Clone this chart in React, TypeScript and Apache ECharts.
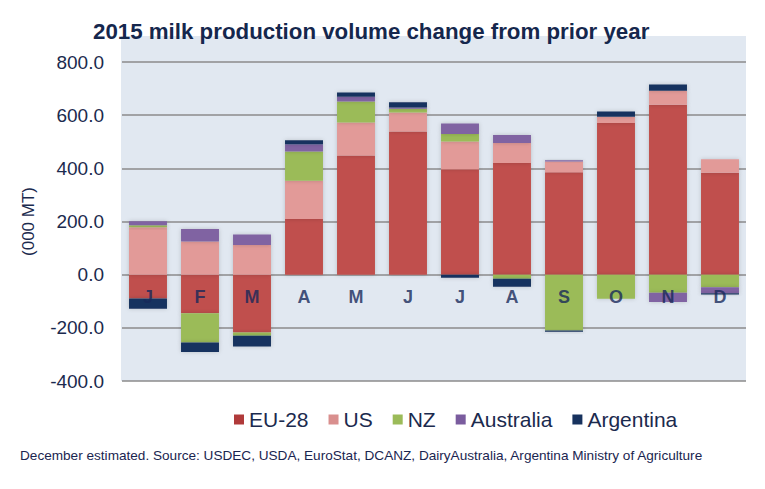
import React, { useEffect, useRef } from "react";
import * as echarts from "echarts";

const months = ["J", "F", "M", "A", "M", "J", "J", "A", "S", "O", "N", "D"];
const eu28 = [-90, -145, -218, 209, 448, 539, 397, 420, 385, 571, 639, 383];
const us = [178, 125, 112, 144, 124, 71, 104, 75, 41, 23, 53, 51];
const nz = [8, -110, -12, 110, 79, 14, 28, -15, -210, -91, -68, -47];
const australia = [15, 47, 39, 28, 18, 5, 40, 30, 4, 0, -35, -23];
const argentina = [-38, -36, -40, 15, 16, 20, -12, -30, -5, 20, 23, -5];
const yTicks = [-400, -200, 0, 200, 400, 600, 800];

const seriesDefs = [
  { name: "EU-28", data: eu28, color: "#c0504d", legendColor: "#b03a3a" },
  { name: "US", data: us, color: "#e29a98", legendColor: "#d98f8e" },
  { name: "NZ", data: nz, color: "#9bbb59", legendColor: "#9bbb59" },
  { name: "Australia", data: australia, color: "#8064a2", legendColor: "#7a5c9e" },
  { name: "Argentina", data: argentina, color: "#17325e", legendColor: "#17325e" },
];

const navy = "#1b2a4e";
const font = "'Liberation Sans', Arial, sans-serif";

export default function App() {
  const ref = useRef<HTMLDivElement>(null);
  useEffect(() => {
    if (!ref.current) return;
    const chart = echarts.init(ref.current, null, { renderer: "svg" });
    chart.setOption({
      animation: false,
      backgroundColor: "#ffffff",
      textStyle: { fontFamily: font },
      grid: {
        left: 122,
        right: 19,
        top: 62,
        bottom: 108,
        show: false,
      },
      title: {
        text: "2015 milk production volume change from prior year",
        left: 88,
        top: 15,
        textStyle: { fontFamily: font, fontSize: 22.3, fontWeight: "bold", color: "#15274d" },
      },
      legend: {
        left: 229,
        top: 404,
        icon: "rect",
        itemWidth: 10,
        itemHeight: 10,
        itemGap: 20,
        textStyle: { fontFamily: font, fontSize: 21, color: navy },
        data: seriesDefs.map((s) => ({ name: s.name, itemStyle: { color: s.legendColor } })),
      },
      xAxis: {
        type: "category",
        data: months,
        axisLine: { show: false },
        axisTick: { show: false },
        axisLabel: { show: false },
        splitLine: { show: false },
      },
      yAxis: {
        type: "value",
        min: yTicks[0],
        max: yTicks[yTicks.length - 1],
        interval: 200,
        name: "(000 MT)",
        nameLocation: "middle",
        nameGap: 85,
        nameTextStyle: { fontSize: 17, color: navy, fontFamily: font },
        axisLine: { show: false },
        axisTick: { show: false },
        axisLabel: {
          fontSize: 19,
          color: navy,
          margin: 18,
          fontFamily: font,
          formatter: (v: number) => v.toFixed(1),
        },
        splitLine: { show: true, lineStyle: { color: "#8b8b8b", width: 1.6 } },
      },
      series: [
        ...seriesDefs.map((s) => ({
          name: s.name,
          type: "bar",
          stack: "total",
          data: s.data,
          barCategoryGap: "27%",
          itemStyle: {
            color: s.color,
            shadowBlur: 4,
            shadowColor: "rgba(0,0,0,0.18)",
          },
        })),
        {
          name: "monthLabels",
          type: "scatter",
          z: 20,
          symbolSize: 0,
          silent: true,
          data: months.map(() => 0),
          label: {
            show: true,
            position: "bottom",
            distance: 13,
            formatter: (p: any) => months[p.dataIndex],
            fontSize: 18,
            fontWeight: "bold",
            color: "#17285a",
            fontFamily: font,
          },
        },
      ],
      graphic: [
        {
          type: "rect",
          z: -100,
          shape: { x: 121, y: 36, width: 625, height: 345 },
          style: { fill: "#e1e8f1" },
          silent: true,
        },
        {
          type: "text",
          left: 20,
          top: 448,
          style: {
            text: "December estimated. Source: USDEC, USDA, EuroStat, DCANZ, DairyAustralia, Argentina Ministry of Agriculture",
            fontFamily: font,
            fontSize: 13.6,
            fill: "#1a2550",
          },
        },
      ],
    });
    return () => chart.dispose();
  }, []);
  return (
    <div
      ref={ref}
      style={{ position: "fixed", left: 0, top: 0, width: 765, height: 489 }}
    />
  );
}
